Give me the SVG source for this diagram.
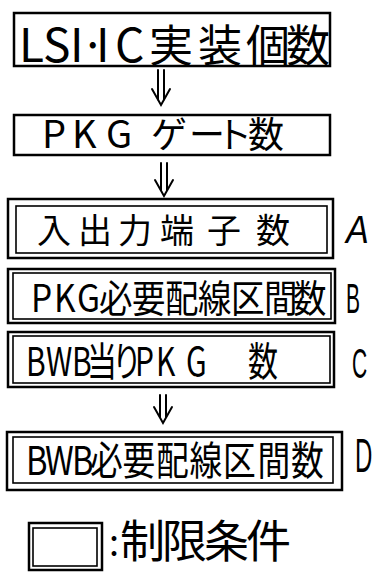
<svg xmlns="http://www.w3.org/2000/svg" width="376" height="572" viewBox="0 0 376 572">
<style>
.b{fill:none;stroke:#000;stroke-width:2.5}
.bi{fill:none;stroke:#000;stroke-width:1.6}
.t{font-family:"Noto Sans CJK JP","Noto Sans",sans-serif;fill:#000}
.l{font-family:"Liberation Sans",Arial,sans-serif;fill:#000}
.a{fill:none;stroke:#000;stroke-width:2;stroke-linecap:round;stroke-linejoin:miter}
</style>
<rect width="376" height="572" fill="#fff"/>
<g id="connectors">
<path class="a" d="M158,70V100M164,70V100M152,89L161,105L170,89"/>
<path class="a" d="M161,163V190M167,163V190M155,180L164,196L173,180"/>
<path class="a" d="M160,395V417M166,395V417M154,407L163,423L172,407"/>
</g>
<g id="n1">
<rect class="b" x="14" y="13" width="316" height="53"/>
<text class="t" y="62"><tspan font-size="46" x="19 43 70 80 96 115">LSI·IC</tspan><tspan font-size="44" x="149 198 246 286">実装個数</tspan></text>
</g>
<g id="n2">
<rect class="b" x="14" y="115" width="316" height="40"/>
<text class="t" y="148"><tspan font-size="38" x="42 72 106 140">PKG </tspan><tspan font-size="36" x="151 189 216 248">ゲート数</tspan></text>
</g>
<g id="nA">
<rect class="b" x="8" y="199" width="325" height="59"/>
<rect class="bi" x="16" y="206" width="311" height="47"/>
<text class="t" y="243" font-size="34" x="37 78 118 160 207 256">入出力端子数</text>
<text class="l" transform="translate(346 243) scale(0.9 1)" font-size="38" font-style="italic">A</text>
</g>
<g id="nB">
<rect class="b" x="8" y="269" width="327" height="54"/>
<rect class="bi" x="13" y="273" width="318" height="46"/>
<text class="t" y="312" font-size="38" transform="scale(0.88 1)" x="35.2 61.4 87.5 112.5 150 187.5 225 262.5 300 333">PKG必要配線区間数</text>
<text class="l" transform="translate(346 313) scale(0.5 1)" font-size="42">B</text>
</g>
<g id="nC">
<rect class="b" x="8" y="332" width="326" height="55"/>
<rect class="bi" x="13" y="336" width="317" height="47"/>
<text class="t" y="376" font-size="40" transform="scale(0.75 1)" x="34.7 61.3 96 116 149.3 180 208 248 330.7">BWB当りPKG数</text>
<text class="l" transform="translate(352 378) scale(0.5 1)" font-size="42">C</text>
</g>
<g id="nD">
<rect class="b" x="7" y="432" width="335" height="58"/>
<rect class="bi" x="13" y="437" width="320" height="46"/>
<text class="t" y="475" font-size="40" transform="scale(0.82 1)" x="31.7 54.9 87.8 109.8 149.4 190.2 231.1 272 314 354.9">BWB必要配線区間数</text>
<text class="l" transform="translate(355 472) scale(0.5 1)" font-size="48">D</text>
</g>
<g id="legend">
<rect class="b" x="29" y="523" width="73" height="47"/>
<rect class="bi" x="33" y="528" width="64" height="38"/>
<text class="t" y="558"><tspan font-size="36" x="109" y="556">:</tspan><tspan font-size="45" x="120 162 204 246" y="558">制限条件</tspan></text>
</g>
</svg>
